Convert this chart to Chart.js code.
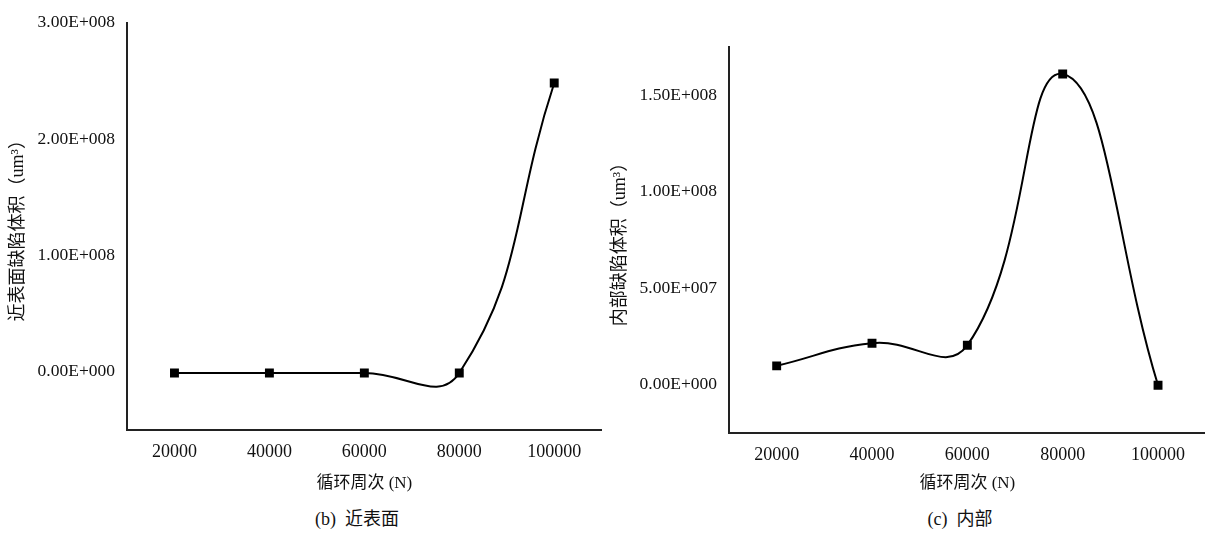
<!DOCTYPE html>
<html>
<head>
<meta charset="utf-8">
<script src="https://cdn.jsdelivr.net/npm/chart.js@4"></script>
<style>
    body { margin: 0; background: #fff; width: 1205px; height: 534px; position: relative; overflow: hidden;
           font-family: "Liberation Serif", "Noto Sans CJK SC", serif; color: #111; }
    .box { position: absolute; top: 0; height: 500px; }
    #leftBox { left: 0; width: 608px; }
    #rightBox { left: 605px; width: 607px; }
    .caption { position: absolute; top: 504px; width: 240px; font-size: 18px; text-align: center; white-space: pre; }
</style>
</head>
<body>
<div class="box" id="leftBox"><canvas id="nearChart" width="608" height="500"></canvas></div>
<div class="box" id="rightBox"><canvas id="innerChart" width="607" height="500"></canvas></div>
<div class="caption" style="left:237px">(b)  近表面</div>
<div class="caption" style="left:840px">(c)  内部</div>

<script>
// Data
const cycles = ['20000', '40000', '60000', '80000', '100000'];
const nearSurfaceVolume = [-1e6, -1e6, -1e6, -1e6, 2.48e8];
const internalVolume = [9.8e6, 21.5e6, 20.5e6, 1.61e8, -0.3e6];

const nearYTicks = [0, 1e8, 2e8, 3e8];
const nearYLabels = ['0.00E+000', '1.00E+008', '2.00E+008', '3.00E+008'];
const innerYTicks = [0, 5e7, 1e8, 1.5e8];
const innerYLabels = ['0.00E+000', '5.00E+007', '1.00E+008', '1.50E+008'];

const FONT = '"Liberation Serif", "Noto Sans CJK SC", serif';
const INK = '#111';

function makeChart(id, values, cfg) {
    return new Chart(document.getElementById(id), {
        type: 'line',
        data: {
            labels: cycles,
            datasets: [{
                data: values,
                borderColor: '#000',
                borderWidth: 2,
                tension: cfg.tension,
                pointStyle: 'rect',
                pointRadius: 6.3,
                pointBackgroundColor: '#000',
                pointBorderWidth: 0,
                fill: false
            }]
        },
        options: {
            responsive: false,
            animation: false,
            layout: { padding: { top: cfg.padTop, right: 0, left: 0, bottom: 0 } },
            plugins: { legend: { display: false }, tooltip: { enabled: false } },
            scales: {
                x: {
                    type: 'category',
                    offset: true,
                    grid: { display: false, drawTicks: false },
                    border: { display: true, color: '#222', width: 2 },
                    ticks: { color: INK, font: { family: FONT, size: 18 }, padding: 11, maxRotation: 0, autoSkip: false },
                    title: { display: true, text: '循环周次 (N)', color: INK, font: { family: FONT, size: 17 }, padding: { top: 0, bottom: 6 } },
                    afterFit: s => { s.height = cfg.xHeight; }
                },
                y: {
                    min: cfg.yMin,
                    max: cfg.yMax,
                    afterBuildTicks: s => { s.ticks = cfg.yTicks.map(v => ({ value: v })); },
                    grid: { display: false, drawTicks: false },
                    border: { display: true, color: '#222', width: 2 },
                    ticks: {
                        color: INK,
                        font: { family: FONT, size: 17.5 },
                        padding: 12,
                        callback: v => cfg.yLabels[cfg.yTicks.indexOf(v)]
                    },
                    title: { display: true, text: cfg.yTitle, color: INK, font: { family: FONT, size: 18 }, padding: { top: cfg.titlePad, bottom: 0 } },
                    afterFit: s => { s.width = cfg.yWidth; }
                }
            }
        }
    });
}

makeChart('nearChart', nearSurfaceVolume, {
    tension: 0.45,
    yMin: -5e7, yMax: 3e8,
    yTicks: nearYTicks, yLabels: nearYLabels,
    yTitle: '近表面缺陷体积（um³）',
    yWidth: 127, xHeight: 70,
    padTop: 18, titlePad: 7
});

makeChart('innerChart', internalVolume, {
    tension: 0.45,
    yMin: -2.5e7, yMax: 1.75e8,
    yTicks: innerYTicks, yLabels: innerYLabels,
    yTitle: '内部缺陷体积（um³）',
    yWidth: 124, xHeight: 67,
    padTop: 47, titlePad: 4
});
</script>
</body>
</html>
